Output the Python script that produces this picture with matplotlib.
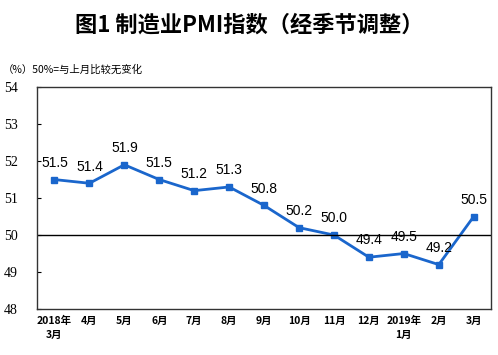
import matplotlib.pyplot as plt

plt.rcParams['font.family'] = ['Noto Sans CJK SC', 'DejaVu Sans']

# data
months = ['2018年\n3月', '4月', '5月', '6月', '7月', '8月', '9月', '10月', '11月',
          '12月', '2019年\n1月', '2月', '3月']
pmi = [51.5, 51.4, 51.9, 51.5, 51.2, 51.3, 50.8, 50.2, 50.0, 49.4, 49.5, 49.2, 50.5]
yticks = [48, 49, 50, 51, 52, 53, 54]

fig = plt.figure(figsize=(4.98, 3.55), dpi=100)
ax = fig.add_axes([0.0743, 0.1296, 0.912, 0.625])

x = list(range(len(pmi)))
ax.plot(x, pmi, color='#1a66cc', lw=2, marker='s', ms=4)
ax.axhline(50, color='black', lw=1)

for i, v in enumerate(pmi):
    ax.annotate(f'{v:.1f}', (i, v), xytext=(0, 7), textcoords='offset points',
                ha='center', va='bottom', fontsize=10, family='Liberation Sans')

ax.set_xlim(-0.5, len(pmi) - 0.5)
ax.set_ylim(48, 54)
ax.set_yticks(yticks)
ax.set_yticklabels([str(t) for t in yticks], family='Liberation Serif', fontsize=10)
ax.set_xticks(x)
ax.set_xticklabels(months, fontsize=7.5, fontweight='bold', linespacing=1.5)
ax.tick_params(axis='y', direction='in', length=3, pad=14)
ax.tick_params(axis='x', length=0, pad=5)
for s in ax.spines.values():
    s.set_linewidth(1)
    s.set_color('#333333')

fig.text(0.5, 0.93, '图1 制造业PMI指数（经季节调整）', ha='center', va='center',
         fontsize=16, fontweight='bold')
fig.text(0.005, 0.805, '（%）50%=与上月比较无变化', ha='left', va='center', fontsize=7.5)

fig.savefig('out.png', dpi=100)
